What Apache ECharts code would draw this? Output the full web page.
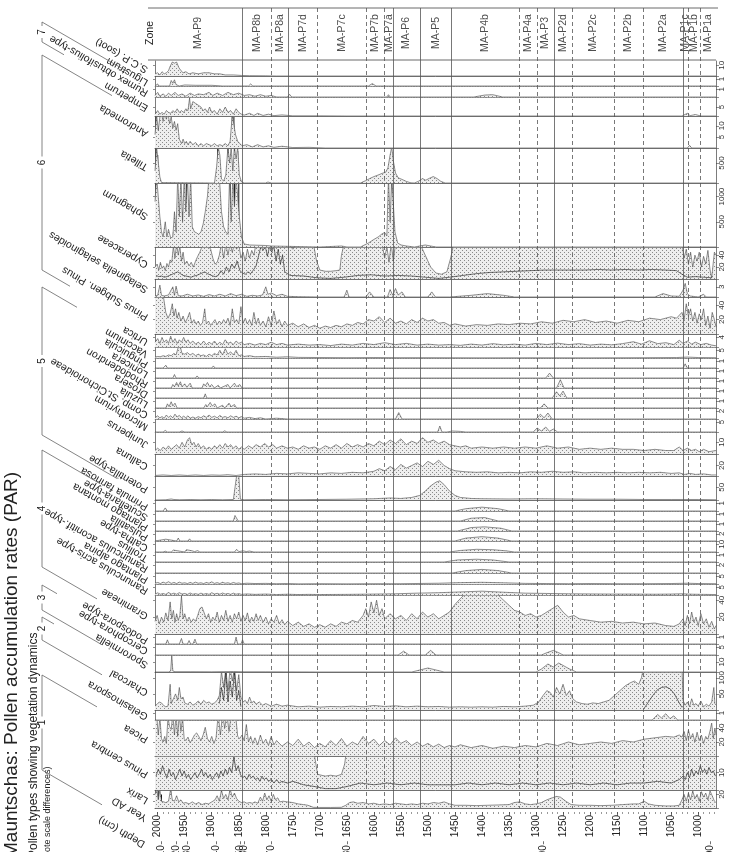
<!DOCTYPE html>
<html><head><meta charset="utf-8">
<script src="https://cdn.jsdelivr.net/npm/echarts@6/dist/echarts.min.js"></script>
<style>html,body{margin:0;padding:0;background:#fff}#c{width:729px;height:852px}</style>
</head><body><div id="c"></div>
<script>
// ---------------- DATA (year AD, PAR value) ----------------
const yearTicks = [2000,1950,1900,1850,1800,1750,1700,1650,1600,1550,1500,1450,1400,1350,1300,1250,1200,1150,1100,1050,1000];
const depthYears = [1998,1993,1965,1946,1891,1848,1839,1789,1650,1287,978];
const depthLabels = ['100','110','120','130','140','150','160','170','180','190','200'];
const zoneNames = ['MA-P9','MA-P8b','MA-P8a','MA-P7d','MA-P7c','MA-P7b','MA-P7a','MA-P6','MA-P5','MA-P4b','MA-P4a','MA-P3','MA-P2d','MA-P2c','MA-P2b','MA-P2a','MA-P1c','MA-P1b','MA-P1a'];
const zoneEdges = [2005,1844,1789,1759,1704,1615,1580,1565,1515,1456,1331,1298,1267,1233,1156,1102,1028,1019,996,967];
const zoneSolid = [true,false,true,false,false,false,true,true,true,false,false,true,false,false,false,true,false,false];

const sootPAR = [[2005,2],[2000,3],[1996,1],[1992,4],[1988,2],[1984,3],[1980,5],[1977,9],[1973,13],[1969,12],[1965,13],[1961,8],[1957,5],[1953,3],[1948,4],[1942,2],[1935,3],[1925,2],[1915,3],[1905,3],[1895,2],[1885,2],[1875,1],[1860,1],[1845,0.5],[1830,0.3],[1800,0.2],[1780,0],[967,0]];
const ligustrum = [[2005,0],[2000,0.3],[1998,0],[1978,0],[1975,0.8],[1972,0.4],[1969,0.9],[1966,0.2],[1960,0],[1950,0.15],[1930,0.1],[1900,0.1],[1880,0],[1832,0],[1828,0.3],[1824,0],[1610,0],[1603,0.35],[1596,0],[967,0]];
const rumex = [[2005,0.2],[2000,0.6],[1996,0.1],[1990,0.4],[1985,0.1],[1980,0.5],[1975,0.2],[1968,0.6],[1962,0.2],[1955,0.4],[1948,0.1],[1940,0.5],[1932,0.2],[1925,0.4],[1915,0.3],[1905,0.6],[1898,0.2],[1890,0.5],[1880,0.2],[1870,0.6],[1860,0.3],[1850,0.5],[1840,0.2],[1830,0.3],[1820,0.1],[1810,0.3],[1800,0.1],[1790,0.2],[1780,0],[1760,0],[1756,0.35],[1752,0],[1642,0],[1639,0.2],[1636,0],[1576,0],[1573,0.3],[1570,0],[1415,0],[1395,0.25],[1380,0.3],[1362,0],[967,0]];
const empetrum = [[2005,1],[2000,3],[1996,1],[1992,2],[1988,1],[1984,3],[1980,2],[1976,1.5],[1972,3],[1968,2],[1964,4],[1960,2],[1956,3],[1952,2],[1948,4],[1944,3],[1941,10],[1939,4],[1935,8],[1930,7],[1925,6],[1920,5],[1916,3],[1912,4],[1908,2],[1904,5],[1900,2],[1895,3],[1890,1],[1885,4],[1880,2],[1875,5],[1870,2],[1865,3],[1860,1],[1855,4],[1850,2],[1845,1],[1840,0.5],[1830,1.5],[1822,0.3],[1815,1.5],[1805,0.3],[1795,1],[1785,0.2],[1770,0.6],[1750,0.1],[1700,0.1],[1650,0],[1030,0],[1020,1.5],[1015,0.2],[1005,0.8],[995,0],[967,0]];
const andromeda = [[2005,6],[2002,15],[1999,8],[1996,14],[1993,16],[1990,12],[1987,16],[1984,13],[1981,16],[1978,11],[1975,14],[1972,9],[1969,12],[1966,8],[1963,11],[1960,4],[1956,2],[1953,4],[1950,2],[1947,3],[1944,1.5],[1940,3],[1935,1.5],[1930,2.5],[1925,1],[1920,2],[1915,1],[1910,2],[1905,1.5],[1900,1],[1895,2],[1890,1],[1885,1.5],[1880,1],[1875,2],[1870,1],[1866,3],[1862,15],[1859,15],[1856,6],[1852,3],[1848,2],[1844,1],[1835,1.5],[1825,0.5],[1815,1.5],[1805,0.5],[1795,1],[1785,0.3],[1770,0.8],[1750,0.2],[1720,0.3],[1690,0],[1020,0],[1016,1.2],[1012,0],[967,0]];
const andromedaAct = [[2003,14],[1999,9],[1993,12],[1987,10],[1981,8],[1862,15],[1859,15]];
const tilletia = [[2005,300],[2002,900],[1999,900],[1996,150],[1993,10],[1990,0],[1895,0],[1891,400],[1888,900],[1885,700],[1882,100],[1878,50],[1874,200],[1870,900],[1867,500],[1864,900],[1861,300],[1858,900],[1855,600],[1852,900],[1849,200],[1845,30],[1840,0],[1800,0],[1796,25],[1790,0],[1625,0],[1615,60],[1608,110],[1600,160],[1592,200],[1585,240],[1578,270],[1574,380],[1570,700],[1567,900],[1564,550],[1560,250],[1555,130],[1548,90],[1540,40],[1532,5],[1525,0],[1518,40],[1510,110],[1504,70],[1497,120],[1490,160],[1483,110],[1476,40],[1468,0],[967,0]];
const tilletiaAct = [[2003,900],[2000,700],[1889,900],[1870,900],[1864,700],[1858,900],[1852,800],[1567,600]];
const sphagnum = [[2005,900],[2002,1400],[1999,1400],[1996,600],[1993,300],[1990,200],[1986,500],[1983,200],[1980,350],[1976,180],[1972,200],[1969,700],[1966,300],[1963,1400],[1960,600],[1957,1400],[1954,500],[1951,1400],[1948,700],[1945,1400],[1942,600],[1939,1400],[1936,400],[1932,300],[1928,280],[1924,250],[1920,300],[1916,450],[1912,700],[1908,1000],[1905,1400],[1900,1400],[1895,1400],[1890,1400],[1886,1400],[1882,700],[1878,400],[1874,300],[1870,250],[1867,1400],[1864,500],[1861,1400],[1858,800],[1855,1400],[1852,1400],[1849,600],[1845,200],[1840,60],[1830,40],[1800,30],[1790,20],[1700,0],[1660,20],[1650,0],[1625,0],[1610,80],[1600,150],[1592,200],[1585,260],[1580,290],[1576,220],[1573,1400],[1570,500],[1567,1400],[1564,1400],[1561,300],[1556,80],[1550,40],[1540,20],[1525,0],[1515,20],[1505,40],[1495,20],[1485,0],[967,0]];
const sphagnumAct = [[2003,1300],[1999,700],[1975,100],[1971,300],[1967,150],[1963,900],[1959,200],[1955,700],[1951,250],[1947,1300],[1943,300],[1939,900],[1935,100],[1870,200],[1866,1300],[1862,400],[1858,1300],[1854,900],[1850,1300],[1846,200],[1570,300],[1567,1300],[1564,900]];
const cyperaceae = [[2005,20],[2001,25],[1998,15],[1995,28],[1992,18],[1989,22],[1986,14],[1983,26],[1980,20],[1977,32],[1974,28],[1971,55],[1968,35],[1965,60],[1962,40],[1959,55],[1956,30],[1953,45],[1950,25],[1946,30],[1942,22],[1938,28],[1934,20],[1930,30],[1926,38],[1922,45],[1918,55],[1914,60],[1910,60],[1906,55],[1902,50],[1898,35],[1894,25],[1890,28],[1886,40],[1882,60],[1878,35],[1874,60],[1870,40],[1866,60],[1862,45],[1858,60],[1854,50],[1850,60],[1846,35],[1842,45],[1838,30],[1834,50],[1830,35],[1826,48],[1822,40],[1818,60],[1810,60],[1800,60],[1790,60],[1780,60],[1770,55],[1760,60],[1750,50],[1740,60],[1730,58],[1720,60],[1712,60],[1706,30],[1700,15],[1690,13],[1680,13],[1670,14],[1663,15],[1660,40],[1655,60],[1600,60],[1585,60],[1580,35],[1576,55],[1572,28],[1568,60],[1564,30],[1560,60],[1515,60],[1505,40],[1495,20],[1485,10],[1475,8],[1465,12],[1458,35],[1452,60],[1030,60],[1026,35],[1022,50],[1018,25],[1014,45],[1010,20],[1006,40],[1002,30],[998,45],[994,20],[990,38],[986,25],[982,48],[978,15],[975,2],[972,0],[970,45],[967,40]];
const cyperaceaeAct = [[2003,6],[1998,4],[1993,5],[1988,3],[1983,4],[1978,6],[1973,8],[1968,10],[1963,12],[1958,9],[1953,6],[1948,5],[1943,4],[1938,3],[1933,5],[1928,6],[1923,8],[1918,10],[1913,12],[1908,9],[1903,7],[1898,5],[1893,4],[1888,6],[1883,14],[1878,8],[1873,20],[1868,12],[1863,25],[1858,18],[1853,30],[1848,14],[1843,10],[1838,8],[1833,12],[1828,9],[1823,15],[1818,22],[1813,40],[1809,55],[1805,48],[1801,55],[1797,38],[1793,55],[1789,45],[1785,55],[1781,30],[1777,50],[1773,25],[1769,40],[1765,12],[1755,6],[1730,5],[1705,2],[1680,1],[1655,3],[1630,6],[1605,7],[1580,5],[1555,6],[1530,5],[1505,3],[1480,1],[1460,3],[1435,6],[1410,9],[1385,11],[1360,12],[1335,13],[1310,14],[1285,15],[1260,15],[1235,15],[1210,15],[1185,16],[1160,15],[1135,16],[1110,15],[1085,16],[1060,15],[1040,14],[1030,8],[1020,3],[1005,4],[990,3],[975,2]];
const selaginella = [[2005,0.3],[2000,0.5],[1996,3.5],[1993,0.5],[1988,0.3],[1980,0.6],[1972,3],[1969,0.5],[1966,3.2],[1962,0.4],[1955,0.3],[1945,0.8],[1935,0.3],[1925,0.6],[1915,0.2],[1905,0.7],[1895,0.3],[1885,0.8],[1875,0.3],[1865,1],[1855,0.4],[1845,0.8],[1835,0.2],[1825,0.5],[1815,0.3],[1806,0.6],[1800,3],[1796,0.8],[1790,1.2],[1780,0.4],[1770,0.8],[1760,0.2],[1740,0.1],[1700,0],[1655,0],[1650,2],[1646,0],[1615,0],[1608,1.5],[1600,0],[1575,0],[1570,2.2],[1565,0.5],[1560,2.5],[1555,0.6],[1548,1.5],[1542,0],[1500,0],[1493,1.5],[1486,0],[1460,0],[1420,0.5],[1390,1],[1360,0.5],[1340,0],[1080,0],[1065,1],[1050,0.3],[1035,0.2],[1028,2],[1024,4],[1020,1],[1015,0.3],[1000,0],[990,0.8],[985,0],[967,0]];
const pinusPinus = [[2005,55],[2001,60],[1997,55],[1993,58],[1989,50],[1985,30],[1981,22],[1977,28],[1973,42],[1970,25],[1967,35],[1964,22],[1961,30],[1957,18],[1953,25],[1949,16],[1945,22],[1941,30],[1937,15],[1933,20],[1929,14],[1925,18],[1921,12],[1917,16],[1913,35],[1910,14],[1906,18],[1902,12],[1898,16],[1894,20],[1890,13],[1886,18],[1882,14],[1878,20],[1874,15],[1870,22],[1866,12],[1862,35],[1858,16],[1854,20],[1850,14],[1846,38],[1842,15],[1838,22],[1834,14],[1830,20],[1826,12],[1822,30],[1818,14],[1814,22],[1810,12],[1805,18],[1800,10],[1795,24],[1790,12],[1785,32],[1780,14],[1775,20],[1770,10],[1765,18],[1760,12],[1750,15],[1740,10],[1730,14],[1720,9],[1710,12],[1700,8],[1690,11],[1680,9],[1670,12],[1660,10],[1650,14],[1640,12],[1630,16],[1620,14],[1610,20],[1600,18],[1590,24],[1580,16],[1570,22],[1560,15],[1550,18],[1540,14],[1530,20],[1520,16],[1510,22],[1500,18],[1490,20],[1480,15],[1470,16],[1460,12],[1450,14],[1430,11],[1410,13],[1390,12],[1370,14],[1350,13],[1330,15],[1310,14],[1290,17],[1270,15],[1250,19],[1230,17],[1210,20],[1190,16],[1170,18],[1150,15],[1130,19],[1110,17],[1090,22],[1070,20],[1050,24],[1040,22],[1030,30],[1026,20],[1022,42],[1018,25],[1014,35],[1010,18],[1006,30],[1002,15],[998,28],[994,20],[990,35],[986,12],[982,25],[978,8],[974,30],[970,20],[967,10]];
const urtica = [[2005,2],[2000,3.5],[1996,1.5],[1992,4],[1988,2],[1984,3],[1980,1.5],[1976,4.5],[1972,2],[1968,3.5],[1964,1.5],[1960,3],[1956,2],[1952,4],[1948,2],[1944,3],[1940,1.5],[1935,2.5],[1930,1.2],[1925,2],[1920,1],[1915,2.5],[1910,1],[1905,2],[1900,1.2],[1895,2.5],[1890,1],[1885,2],[1880,1],[1875,3],[1870,1.5],[1865,2],[1860,1],[1855,2.5],[1850,1.5],[1845,2],[1840,1],[1830,1.5],[1820,0.8],[1810,1.5],[1800,1],[1790,2],[1780,1],[1770,1.5],[1760,0.8],[1740,1.2],[1720,0.8],[1700,1],[1680,0.6],[1660,1.2],[1640,0.8],[1620,1.5],[1600,1],[1580,1.8],[1560,1],[1540,1.5],[1520,0.8],[1500,1.2],[1480,0.8],[1460,1],[1440,0.7],[1420,1.2],[1400,0.8],[1380,1.4],[1360,0.9],[1340,1.2],[1320,0.8],[1300,1.5],[1280,1],[1260,1.6],[1240,1],[1220,1.4],[1200,0.8],[1180,1.2],[1160,0.9],[1140,1.4],[1120,2.2],[1105,1.2],[1090,2.6],[1075,1.4],[1060,1.8],[1045,1],[1035,2.8],[1028,1.5],[1020,2.5],[1012,1.2],[1005,2],[995,1],[985,1.5],[975,0.8],[967,0.5]];
const vaccinium = [[2005,0.5],[2000,1],[1995,0.8],[1990,1.5],[1985,1],[1980,2],[1975,1.5],[1970,3],[1966,2],[1962,7],[1958,7],[1955,3],[1950,2.5],[1945,3.5],[1940,2],[1935,3],[1930,1.5],[1925,2.5],[1920,1.5],[1915,2],[1910,1],[1905,2.5],[1900,1.5],[1895,3],[1890,2],[1885,5],[1880,2],[1875,6],[1870,2.5],[1865,4],[1860,2],[1855,5],[1850,1.5],[1845,2],[1840,1],[1830,1.5],[1820,0.8],[1800,1],[1780,0.5],[1760,0.8],[1740,0.4],[1700,0.3],[1650,0.2],[1600,0.3],[1550,0.2],[1500,0.2],[1400,0.1],[1300,0.15],[1200,0.1],[1100,0.2],[1040,0.3],[1020,0.6],[1000,0.3],[967,0.2]];
const pinguicula = [[2005,0],[1990,0],[1985,0.4],[1982,0],[1900,0],[1897,0.3],[1894,0],[1028,0],[1024,0.6],[1020,0],[967,0]];
const lonicera = [[2005,0],[1972,0],[1969,0.5],[1966,0],[1930,0],[1927,0.3],[1924,0],[1282,0],[1275,0.7],[1268,0],[967,0]];
const rhododendron = [[2005,0],[1975,0],[1972,0.5],[1969,0.2],[1965,0.8],[1962,0.3],[1958,0.9],[1955,0.2],[1950,0.6],[1946,0.1],[1940,0.7],[1936,0],[1918,0],[1915,0.6],[1912,0.3],[1908,0.8],[1904,0.2],[1900,0.5],[1895,0],[1888,0.4],[1884,0],[1870,0.5],[1866,0],[1858,0.7],[1854,0.2],[1848,0.5],[1844,0],[1262,0],[1255,1.2],[1248,0],[967,0]];
const drosera = [[2005,0],[1915,0],[1912,0.6],[1909,0],[1845,0],[1270,0],[1262,0.9],[1256,0.3],[1250,1],[1243,0],[967,0]];
const luzula = [[2005,0],[1985,0],[1982,0.6],[1979,0.2],[1975,0.9],[1972,0.3],[1968,0.7],[1964,0],[1915,0],[1911,0.5],[1908,0.2],[1903,0.8],[1899,0.3],[1894,0.6],[1890,0],[1880,0.4],[1876,0],[1868,0.7],[1864,0.2],[1858,0.5],[1854,0],[1292,0],[1285,0.6],[1278,0],[967,0]];
const compCich = [[2005,0.3],[2000,0.8],[1996,0.3],[1992,0.6],[1988,0.2],[1984,1],[1980,0.4],[1976,0.8],[1972,0.3],[1968,1.2],[1964,0.5],[1960,0.9],[1956,0.3],[1952,0.7],[1948,0.3],[1944,0.8],[1940,0.2],[1935,0.5],[1930,0.2],[1925,0.6],[1920,0.3],[1915,0.8],[1910,0.4],[1905,1],[1900,0.4],[1895,0.7],[1890,0.3],[1885,0.9],[1880,0.4],[1875,0.6],[1870,0.3],[1865,0.8],[1860,0.4],[1855,0.7],[1850,0.3],[1845,0.6],[1840,0.2],[1830,0.4],[1820,0.1],[1810,0.3],[1800,0],[1780,0.2],[1760,0],[1560,0],[1554,1.6],[1548,0],[1300,0],[1292,1.2],[1285,0.3],[1278,1.5],[1270,0],[967,0]];
const microthyrium = [[2005,0],[1990,0],[1986,0.8],[1982,0],[1960,0],[1955,0.5],[1950,0],[1880,0],[1876,0.6],[1872,0],[1482,0],[1478,3],[1474,0],[1465,0],[1455,0.5],[1440,0.3],[1430,0],[1305,0],[1298,2],[1290,0.5],[1282,2.5],[1275,0.3],[1268,1.5],[1260,0],[967,0]];
const juniperus = [[2005,3],[2000,5],[1995,3],[1990,6],[1985,4],[1980,7],[1975,4],[1970,6],[1965,8],[1960,5],[1955,10],[1950,6],[1945,12],[1941,14],[1937,8],[1933,10],[1929,6],[1925,9],[1920,5],[1915,7],[1910,4],[1905,6],[1900,4],[1895,7],[1890,5],[1885,8],[1880,5],[1875,9],[1870,6],[1865,8],[1860,5],[1855,7],[1850,4],[1845,6],[1840,4],[1832,7],[1825,5],[1818,8],[1810,6],[1802,9],[1795,6],[1787,8],[1780,5],[1770,7],[1760,5],[1750,6],[1740,4],[1730,7],[1720,5],[1710,6],[1700,4],[1690,7],[1680,5],[1670,8],[1660,5],[1650,9],[1640,6],[1630,8],[1620,6],[1610,9],[1600,7],[1590,11],[1580,8],[1570,12],[1560,9],[1550,13],[1540,8],[1530,11],[1520,9],[1510,14],[1500,10],[1490,12],[1480,9],[1470,11],[1460,8],[1450,7],[1440,6],[1430,7],[1420,5],[1400,6],[1380,5],[1360,6],[1340,5],[1320,6],[1300,5],[1280,7],[1260,5],[1240,6],[1220,4],[1200,5],[1180,4],[1160,5],[1140,4],[1120,4],[1100,3],[1080,4],[1060,3],[1045,3],[1035,6],[1028,3],[1020,5],[1012,3],[1005,4],[998,2],[990,4],[980,2],[967,3]];
const calluna = [[2005,1],[1990,2],[1975,1],[1960,2],[1945,1],[1930,2],[1915,1],[1900,2],[1885,1.5],[1870,2.5],[1855,1],[1840,3],[1820,4],[1800,3],[1780,5],[1760,4],[1740,6],[1720,5],[1700,4],[1680,6],[1660,5],[1640,7],[1620,6],[1600,9],[1590,14],[1580,10],[1570,18],[1560,12],[1550,22],[1540,15],[1530,20],[1520,25],[1510,18],[1500,28],[1490,22],[1480,30],[1470,20],[1460,14],[1450,10],[1430,8],[1410,7],[1390,8],[1370,6],[1350,7],[1330,6],[1310,8],[1290,7],[1270,9],[1250,7],[1230,8],[1210,6],[1190,7],[1170,6],[1150,7],[1130,6],[1110,7],[1090,6],[1070,7],[1050,5],[1035,6],[1025,3],[1015,5],[1005,3],[990,4],[975,2],[967,2]];
const potentilla = [[2005,0],[1985,1],[1975,4],[1970,2],[1960,1],[1940,2],[1920,1],[1900,2],[1880,1],[1860,2],[1854,95],[1850,95],[1847,3],[1840,1],[1800,2],[1760,1],[1700,2],[1650,3],[1600,5],[1570,8],[1550,6],[1530,10],[1515,18],[1505,35],[1495,55],[1485,70],[1478,75],[1470,60],[1460,35],[1450,18],[1440,10],[1420,6],[1400,5],[1350,4],[1300,5],[1250,4],[1200,3],[1150,3],[1100,2],[1050,2],[1000,2],[967,1]];
const primula = [[2005,0],[1990,0],[1986,0.4],[1982,0],[1450,0],[1430,0.3],[1400,0.5],[1370,0.3],[1350,0],[967,0]];
const scutellaria = [[2005,0],[1860,0],[1857,0.8],[1854,0.9],[1851,0],[1440,0],[1420,0.4],[1395,0.5],[1370,0],[967,0]];
const plantagoMont = [[2005,0],[1445,0],[1420,0.5],[1395,0.6],[1365,0.4],[1345,0],[967,0]];
const pulsatilla = [[2005,0],[1985,0.5],[1982,0],[1965,0],[1962,0.8],[1959,0],[1944,0],[1941,0.6],[1938,0],[1450,0],[1430,0.8],[1400,1.2],[1370,0.8],[1345,0],[967,0]];
const caltha = [[2005,0],[1990,0],[1986,1],[1982,0],[1975,0],[1971,2.5],[1968,0],[1950,0],[1947,3],[1944,0.5],[1936,1.5],[1932,0.5],[1926,1.8],[1922,0],[1908,0],[1905,1.2],[1902,0],[1858,0],[1854,3.5],[1850,0.5],[1842,1.5],[1836,0.6],[1830,1.2],[1822,0],[1460,0],[1440,2],[1410,3.5],[1380,3],[1355,1.5],[1340,0],[967,0]];
const trollius = [[2005,0],[1470,0],[1445,0.3],[1410,0.4],[1380,0.3],[1350,0],[967,0]];
const ranAconit = [[2005,0],[1920,0],[1917,0.5],[1914,0],[1455,0],[1430,0.6],[1400,0.9],[1370,0.6],[1345,0],[967,0]];
const plantagoAlp = [[2005,0.5],[2000,1],[1995,0.3],[1990,1.2],[1985,0.5],[1980,1.5],[1975,0.4],[1970,1],[1965,0.3],[1960,1.2],[1955,0.5],[1950,0.8],[1945,0.3],[1940,1],[1935,0.4],[1930,1.2],[1925,0.5],[1920,0.8],[1915,0.3],[1910,1],[1905,0.5],[1900,1.4],[1895,0.4],[1890,0.9],[1885,0.3],[1880,1.1],[1875,0.5],[1870,0.8],[1865,0.3],[1860,1],[1855,0.4],[1850,0.7],[1845,0.2],[1835,0.5],[1820,0.3],[1800,0.4],[1780,0.2],[1760,0.3],[1740,0.1],[1700,0.2],[1650,0.1],[1600,0.2],[1550,0.2],[1480,0.5],[1440,0.9],[1400,1.1],[1360,0.8],[1320,0.4],[1280,0.3],[1240,0.2],[1200,0.3],[1150,0.2],[1100,0.2],[1050,0.3],[1020,0.5],[1000,0.3],[967,0.2]];
const ranAcris = [[2005,0.6],[2000,1.4],[1995,0.5],[1990,1],[1985,0.4],[1980,1.6],[1975,0.6],[1970,1.2],[1965,0.5],[1960,1.5],[1955,0.6],[1950,1],[1945,0.4],[1940,1.3],[1935,0.5],[1930,0.9],[1925,0.4],[1920,1.2],[1915,0.5],[1910,1],[1905,0.4],[1900,1.5],[1895,0.6],[1890,1.1],[1885,0.5],[1880,1.3],[1875,0.6],[1870,1],[1865,0.4],[1860,1.2],[1855,0.5],[1850,0.9],[1845,0.4],[1835,0.7],[1820,0.4],[1800,0.6],[1780,0.3],[1760,0.5],[1740,0.3],[1720,0.4],[1700,0.3],[1650,0.4],[1600,0.6],[1560,0.8],[1520,1.2],[1480,1.5],[1440,2],[1400,2.5],[1360,1.8],[1320,1.2],[1280,1],[1240,0.8],[1200,0.7],[1160,0.6],[1120,0.6],[1080,0.5],[1050,0.6],[1030,0.8],[1010,0.5],[990,0.4],[967,0.3]];
const gramineae = [[2005,15],[2001,22],[1997,12],[1993,20],[1989,14],[1985,25],[1981,16],[1977,38],[1974,18],[1971,28],[1968,14],[1965,24],[1962,16],[1959,22],[1956,45],[1953,18],[1950,24],[1946,15],[1942,20],[1938,14],[1934,18],[1930,15],[1926,22],[1922,30],[1918,32],[1914,25],[1910,18],[1906,24],[1902,14],[1898,20],[1894,16],[1890,26],[1886,14],[1882,22],[1878,16],[1874,28],[1870,15],[1866,22],[1862,14],[1858,24],[1854,18],[1850,26],[1846,15],[1842,22],[1838,16],[1834,25],[1830,14],[1826,20],[1822,15],[1818,24],[1814,16],[1810,22],[1805,14],[1800,20],[1795,12],[1790,18],[1785,14],[1780,22],[1775,12],[1770,17],[1765,11],[1760,15],[1750,10],[1740,14],[1730,9],[1720,12],[1710,8],[1700,11],[1690,8],[1680,12],[1670,9],[1660,14],[1650,12],[1640,16],[1630,14],[1620,22],[1615,30],[1610,20],[1605,38],[1600,25],[1595,40],[1590,22],[1585,30],[1580,18],[1570,24],[1560,18],[1550,22],[1540,16],[1530,24],[1520,18],[1510,26],[1500,20],[1490,24],[1480,18],[1470,22],[1460,26],[1450,35],[1440,42],[1430,48],[1420,50],[1410,50],[1400,50],[1390,48],[1380,50],[1370,46],[1360,40],[1350,34],[1340,28],[1330,26],[1320,22],[1310,24],[1300,20],[1290,22],[1280,26],[1270,30],[1260,34],[1250,26],[1240,20],[1230,22],[1220,18],[1200,16],[1180,14],[1160,15],[1140,13],[1120,14],[1100,12],[1080,13],[1060,10],[1045,9],[1035,12],[1028,18],[1024,10],[1020,22],[1016,12],[1012,26],[1008,14],[1004,20],[1000,10],[995,24],[990,12],[985,18],[980,8],[975,15],[970,6],[967,10]];
const podospora = [[2005,0],[1985,0],[1982,0.6],[1979,0],[1960,0],[1956,0.8],[1953,0],[1945,0],[1942,0.5],[1939,0],[1935,0],[1931,0.7],[1928,0],[1858,0],[1855,1],[1852,0],[1846,0],[1843,0.6],[1840,0],[967,0]];
const cercophora = [[2005,0],[1900,0],[1897,0.5],[1894,0],[1555,0],[1545,2.5],[1535,0],[1505,0],[1495,3],[1485,0],[1290,0],[1280,1.5],[1268,3],[1258,1.5],[1250,0],[967,0]];
const sporormiella = [[2005,0],[1980,0],[1976,1],[1974,17],[1972,1],[1968,0.3],[1940,0.3],[1900,0.2],[1860,0.5],[1840,0.2],[1800,0.2],[1700,0],[1530,0],[1515,2],[1500,4],[1485,2],[1470,0],[1300,0],[1290,3],[1278,8],[1268,5],[1258,9],[1248,6],[1238,3],[1225,0],[967,0]];
const charcoal = [[2005,12],[2001,18],[1997,25],[1993,22],[1989,14],[1985,10],[1981,12],[1977,80],[1975,20],[1971,35],[1967,50],[1963,30],[1960,70],[1957,35],[1953,40],[1950,22],[1945,18],[1940,25],[1935,15],[1930,20],[1925,28],[1920,18],[1915,30],[1910,22],[1905,25],[1900,18],[1895,22],[1890,30],[1886,45],[1882,120],[1878,70],[1874,130],[1870,60],[1866,130],[1862,90],[1858,130],[1854,60],[1850,110],[1846,40],[1842,25],[1838,30],[1834,20],[1830,40],[1826,22],[1822,28],[1818,18],[1812,25],[1806,15],[1800,20],[1790,12],[1780,18],[1770,12],[1760,15],[1740,10],[1720,12],[1700,9],[1680,11],[1660,10],[1640,12],[1620,10],[1600,14],[1580,11],[1560,13],[1540,10],[1520,12],[1500,10],[1480,11],[1460,9],[1440,10],[1420,9],[1400,10],[1380,9],[1360,11],[1340,10],[1320,12],[1305,15],[1295,25],[1287,45],[1280,60],[1274,55],[1268,40],[1262,70],[1256,50],[1250,80],[1244,45],[1238,60],[1232,35],[1225,25],[1215,20],[1205,18],[1195,22],[1185,20],[1175,25],[1165,30],[1155,45],[1145,60],[1135,75],[1125,85],[1118,90],[1110,80],[1105,100],[1100,140],[1030,140],[1028,30],[1024,15],[1020,25],[1016,10],[1012,35],[1008,15],[1004,20],[1000,12],[995,28],[990,10],[985,18],[980,12],[975,25],[971,70],[969,20],[967,15]];
const charcoalAct = [[1886,20],[1882,70],[1878,30],[1874,115],[1870,25],[1866,90],[1862,40],[1858,120],[1854,30],[1850,60],[1846,10],[1500,'-'],[1100,5],[1092,25],[1084,45],[1076,62],[1068,70],[1060,72],[1052,66],[1044,50],[1036,25],[1030,8]];
const gelasinospora = [[2005,0],[1085,0],[1075,0.8],[1068,0.3],[1060,0.9],[1052,0.2],[1045,0.6],[1038,0],[967,0]];
const picea = [[2005,55],[2002,60],[1999,30],[1996,55],[1993,25],[1990,20],[1987,28],[1984,18],[1981,55],[1978,42],[1975,38],[1972,60],[1969,30],[1966,60],[1963,28],[1960,60],[1957,35],[1954,55],[1951,25],[1948,22],[1944,27],[1940,19],[1936,24],[1932,30],[1928,33],[1924,28],[1920,22],[1916,30],[1912,41],[1908,25],[1904,20],[1900,28],[1896,18],[1892,26],[1888,60],[1884,30],[1880,60],[1876,40],[1872,60],[1868,35],[1864,60],[1860,50],[1856,60],[1852,28],[1848,25],[1844,30],[1840,22],[1836,45],[1832,20],[1828,28],[1824,18],[1820,26],[1815,16],[1810,30],[1805,18],[1800,24],[1795,15],[1790,28],[1785,16],[1780,22],[1770,14],[1760,20],[1750,15],[1740,24],[1730,14],[1720,20],[1710,12],[1700,18],[1690,13],[1680,22],[1670,15],[1660,25],[1650,14],[1640,20],[1630,16],[1620,28],[1610,18],[1600,24],[1590,15],[1580,22],[1570,16],[1560,26],[1550,18],[1540,22],[1530,15],[1520,20],[1510,14],[1500,18],[1490,13],[1480,17],[1470,12],[1460,15],[1450,13],[1440,16],[1420,12],[1400,15],[1380,11],[1360,14],[1340,12],[1320,15],[1300,13],[1280,18],[1260,15],[1240,20],[1220,16],[1200,18],[1180,20],[1160,18],[1140,22],[1120,20],[1100,24],[1080,26],[1060,28],[1045,27],[1035,30],[1030,27],[1026,35],[1022,22],[1018,37],[1014,25],[1010,32],[1006,20],[1002,34],[998,22],[994,30],[990,18],[986,28],[982,24],[978,36],[975,47],[972,25],[969,40],[967,30]];
const piceaAct = [[2003,12],[1999,6],[1995,9],[1991,4],[1987,5],[1983,7],[1979,10],[1975,6],[1971,14],[1967,8],[1963,12],[1959,7],[1955,10],[1951,5],[1947,4],[1943,6],[1939,3],[1935,5],[1931,6],[1927,4],[1923,5],[1919,3],[1915,6],[1911,8],[1907,4],[1903,3],[1899,5],[1895,3],[1891,8],[1887,14],[1883,9],[1879,18],[1875,8],[1871,15],[1867,9],[1863,20],[1859,10],[1855,16],[1851,6],[1847,5],[1843,4],[1835,6],[1825,3],[1815,4],[1805,3],[1795,4],[1785,3]];
const pinusCembra = [[2005,30],[1720,30],[1710,20],[1704,9],[1690,8],[1680,8.5],[1670,8],[1660,9],[1654,15],[1648,30],[967,30]];
const pinusCembraAct = [[2003,8],[1999,12],[1995,9],[1991,14],[1987,10],[1983,7],[1979,12],[1975,8],[1971,10],[1967,6],[1963,9],[1959,12],[1955,8],[1951,11],[1947,7],[1943,9],[1939,6],[1935,8],[1931,10],[1927,7],[1923,9],[1919,12],[1915,8],[1911,10],[1907,7],[1903,9],[1899,6],[1895,8],[1891,10],[1887,7],[1883,11],[1879,8],[1875,12],[1871,9],[1867,13],[1863,10],[1859,19],[1855,11],[1851,14],[1847,9],[1843,7],[1839,8],[1835,6],[1831,9],[1827,7],[1823,8],[1819,6],[1815,7],[1811,5],[1807,8],[1803,6],[1799,7],[1795,5],[1790,6],[1785,4],[1780,6],[1775,4],[1770,5],[1760,4],[1750,5],[1730,3],[1710,2],[1690,0.8],[1670,0.8],[1650,2],[1625,4],[1600,3],[1575,4],[1550,3],[1525,4],[1500,3],[1475,3],[1450,3],[1425,4],[1400,3],[1375,4],[1350,3],[1325,4],[1300,3],[1275,4],[1250,3],[1225,4],[1200,3],[1175,4],[1150,3],[1125,4],[1100,4],[1075,5],[1050,4],[1035,6],[1028,8],[1024,6],[1020,10],[1016,7],[1012,12],[1008,8],[1004,11],[1000,9],[996,14],[992,10],[988,12],[984,9],[980,13],[976,10],[972,11],[968,8]];
const larix = [[2005,20],[2002,28],[1999,12],[1996,26],[1993,10],[1990,9],[1985,8],[1980,10],[1976,28],[1973,12],[1969,10],[1965,18],[1961,9],[1957,12],[1953,7],[1948,8],[1942,6],[1936,9],[1930,6],[1924,8],[1918,5],[1912,7],[1906,6],[1900,9],[1894,12],[1890,18],[1886,10],[1882,26],[1878,14],[1874,20],[1870,12],[1866,28],[1862,16],[1858,22],[1854,14],[1850,10],[1845,8],[1840,9],[1835,7],[1830,8],[1825,7],[1820,9],[1815,7],[1810,16],[1806,10],[1802,22],[1798,12],[1794,18],[1790,10],[1786,20],[1782,12],[1778,15],[1774,9],[1768,10],[1760,9],[1750,8],[1740,6],[1730,5],[1722,4],[1712,1],[1700,0.8],[1680,0.8],[1660,1],[1652,4],[1645,8],[1638,9],[1630,7],[1620,8],[1610,6],[1600,7],[1590,5],[1580,6],[1570,5],[1560,7],[1550,6],[1540,5],[1530,6],[1520,5],[1510,7],[1500,6],[1490,8],[1480,7],[1470,9],[1460,6],[1450,4],[1430,4],[1410,3.5],[1390,4],[1370,4.5],[1350,5],[1340,8],[1330,9],[1320,6],[1310,5],[1300,6],[1290,8],[1280,12],[1270,15],[1262,17],[1255,16],[1245,10],[1235,5],[1220,4],[1200,4],[1180,3.5],[1160,4],[1140,5],[1120,6],[1110,6],[1100,10],[1092,6],[1080,4],[1060,3],[1045,3],[1035,4],[1030,12],[1026,20],[1022,10],[1018,22],[1014,12],[1010,25],[1006,14],[1002,20],[998,10],[994,24],[990,16],[986,22],[982,12],[978,25],[974,18],[970,10],[967,8]];
const larixAct = [[1999,25],[1993,20],[1976,25],[1882,25],[1866,25],[1858,18],[1802,15],[1786,12],[1026,8],[1010,10],[994,9],[978,10]];

// ---------------- LAYOUT (strip positions / scales) ----------------
const strips = [
 {name:'S.C.P. (soot)', data:sootPAR, top:61, bot:76, max:14, ticks:[10]},
 {name:'Ligustrum', data:ligustrum, top:77, bot:86, max:1.3, ticks:[1]},
 {name:'Rumex obtusifolius-type', data:rumex, top:87, bot:97, max:1.3, ticks:[1]},
 {name:'Empetrum', data:empetrum, top:98, bot:116, max:10, ticks:[5]},
 {name:'Andromeda', data:andromeda, act:andromedaAct, top:117, bot:148, max:14, ticks:[5,10]},
 {name:'Tilletia', data:tilletia, act:tilletiaAct, top:149, bot:183, max:850, ticks:[500]},
 {name:'Sphagnum', data:sphagnum, act:sphagnumAct, top:184, bot:247, max:1250, ticks:[500,1000]},
 {name:'Cyperaceae', data:cyperaceae, act:cyperaceaeAct, outline:true, top:248, bot:279, max:52, ticks:[20,40]},
 {name:'Selaginella selaginoides', data:selaginella, top:280, bot:297, max:5, ticks:[3]},
 {name:'Pinus Subgen. Pinus', data:pinusPinus, top:298, bot:334, max:50, ticks:[20,40]},
 {name:'Urtica', data:urtica, top:335, bot:347, max:5, ticks:[4]},
 {name:'Vaccinium', data:vaccinium, top:348, bot:358, max:6.5, ticks:[5]},
 {name:'Pinguicula', data:pinguicula, top:359, bot:368, max:1.3, ticks:[1]},
 {name:'Lonicera', data:lonicera, top:369, bot:378, max:1.3, ticks:[1]},
 {name:'Rhododendron', data:rhododendron, top:379, bot:388, max:1.3, ticks:[1]},
 {name:'Drosera', data:drosera, top:389, bot:398, max:1.3, ticks:[1]},
 {name:'Luzula', data:luzula, top:399, bot:408, max:1.3, ticks:[1]},
 {name:'Comp. St.Cichorioideae', data:compCich, top:409, bot:419, max:2.5, ticks:[2]},
 {name:'Microthyrium', data:microthyrium, top:420, bot:432, max:6, ticks:[5]},
 {name:'Juniperus', data:juniperus, top:433, bot:454, max:18, ticks:[10]},
 {name:'Calluna', data:calluna, top:455, bot:476, max:40, ticks:[20]},
 {name:'Potentilla-type', data:potentilla, top:477, bot:500, max:90, ticks:[50]},
 {name:'Primula farinosa', data:primula, top:501, bot:511, max:1.3, ticks:[1]},
 {name:'Scutellaria-type', data:scutellaria, top:512, bot:521, max:1.3, ticks:[1]},
 {name:'Plantago montana', data:plantagoMont, top:522, bot:531, max:1.3, ticks:[1]},
 {name:'Pulsatilla', data:pulsatilla, top:532, bot:541, max:2.5, ticks:[2]},
 {name:'Caltha-type', data:caltha, top:542, bot:552, max:13, ticks:[10]},
 {name:'Trollius', data:trollius, top:553, bot:562, max:1.3, ticks:[1]},
 {name:'Ranunculus aconitif.-type', data:ranAconit, top:563, bot:573, max:2.5, ticks:[2]},
 {name:'Plantago alpina', data:plantagoAlp, top:574, bot:584, max:6.5, ticks:[5]},
 {name:'Ranunculus acris-type', data:ranAcris, top:585, bot:595, max:6.5, ticks:[5]},
 {name:'Gramineae', data:gramineae, top:596, bot:634, max:45, ticks:[20,40]},
 {name:'Podospora-type', data:podospora, top:635, bot:644, max:1.3, ticks:[1]},
 {name:'Cercophora-type', data:cercophora, top:645, bot:655, max:6.5, ticks:[5]},
 {name:'Sporormiella', data:sporormiella, top:656, bot:672, max:16, ticks:[10]},
 {name:'Charcoal', data:charcoal, act:charcoalAct, outline:true, top:673, bot:710, max:115, ticks:[50,100]},
 {name:'Gelasinospora', data:gelasinospora, top:711, bot:720, max:1.3, ticks:[1]},
 {name:'Picea', data:picea, act:piceaAct, top:721, bot:756, max:50, ticks:[20,40]},
 {name:'Pinus cembra', data:pinusCembra, act:pinusCembraAct, outline:true, top:757, bot:790, max:19, ticks:[10]},
 {name:'Larix', data:larix, act:larixAct, top:791, bot:808, max:25, ticks:[10,20]}
];
const groups = [
 {label:'7', y0:22, y1:42, dx0:85, dx1:22},
 {label:'6', y0:55, y1:270, dx0:70, dx1:28},
 {label:'5', y0:287, y1:435, dx0:35, dx1:75},
 {label:'4', y0:450, y1:567, dx0:58, dx1:55},
 {label:'3', y0:585, y1:610, dx0:15, dx1:60},
 {label:'2', y0:617, y1:640, dx0:12, dx1:60},
 {label:'1', y0:675, y1:770, dx0:55, dx1:60}
];

// ---------------- BUILD ----------------
const FONT = 'Liberation Sans';
const XL = 155, XR = 13, YMIN = 967, YMAX = 2005;
const plain = (v) => String(v);
const pc = document.createElement('canvas'); pc.width = 4; pc.height = 4;
const g2 = pc.getContext('2d');
g2.fillStyle = '#eeeeee'; g2.fillRect(0,0,4,4);
g2.fillStyle = '#8a8a8a'; g2.fillRect(0,0,1,1); g2.fillRect(2,2,1,1);
const stipple = {image: pc, repeat: 'repeat'};

const grid = [], xAxis = [], yAxis = [], series = [], graphic = [];
const decades = [];
for (let y = 970; y <= 2000; y += 10) decades.push(y);

strips.forEach((s) => {
  const gi = grid.length;
  const h = s.bot - s.top;
  const small = h < 14;
  grid.push({left: XL, right: XR, top: s.top, height: h});
  const xi = xAxis.length;
  xAxis.push({gridIndex: gi, type: 'value', min: YMIN, max: YMAX, inverse: true,
    axisLine: {show: true, onZero: false, lineStyle: {color: small ? '#666' : '#333', width: small ? 0.8 : 0.7, type: small ? 'dotted' : 'solid'}},
    axisTick: {show: false}, axisLabel: {show: false}, splitLine: {show: false}});
  const yi = yAxis.length;
  yAxis.push({gridIndex: gi, type: 'value', min: 0, max: s.max,
    axisLine: {show: true, lineStyle: {color: '#444', width: 0.7}},
    axisTick: {show: true, length: 2, customValues: s.ticks, lineStyle: {color: '#444', width: 0.6}},
    axisLabel: {show: false}, splitLine: {show: false}});
  yAxis.push({gridIndex: gi, type: 'value', position: 'right', min: 0, max: s.max,
    axisLine: {show: true, lineStyle: {color: '#444', width: 0.7}},
    axisTick: {show: true, length: 3, customValues: [0].concat(s.ticks), lineStyle: {color: '#444', width: 0.6}},
    axisLabel: {show: true, customValues: s.ticks, formatter: plain, rotate: 90, fontSize: 8, margin: 2, color: '#333', fontFamily: FONT},
    splitLine: {show: false}});
  series.push({type: 'line', xAxisIndex: xi, yAxisIndex: yi, data: s.data, symbol: 'none',
    lineStyle: {color: '#444', width: 0.6}, areaStyle: {color: stipple, opacity: 1}, silent: true, clip: true});
  if (s.act) {
    series.push({type: 'bar', xAxisIndex: xi, yAxisIndex: yi, data: s.act, barWidth: 1,
      itemStyle: {color: '#111'}, silent: true, clip: true});
    if (s.outline) series.push({type: 'line', xAxisIndex: xi, yAxisIndex: yi, data: s.act, symbol: 'none',
      lineStyle: {color: '#111', width: 0.6}, silent: true, clip: true});
  }
  graphic.push({type: 'text', x: 150, y: (s.top + s.bot) / 2 - 3, rotation: 150 * Math.PI / 180,
    style: {text: s.name, font: '10.5px "' + FONT + '"', fill: '#222', textAlign: 'left', textVerticalAlign: 'bottom'}, silent: true});
});

// zone grid
{
  const gi = grid.length;
  grid.push({left: XL, right: XR, top: 8, height: 800});
  const xi = xAxis.length;
  xAxis.push({gridIndex: gi, type: 'value', min: YMIN, max: YMAX, inverse: true, show: false});
  const yi = yAxis.length;
  yAxis.push({gridIndex: gi, type: 'value', min: 0, max: 800, inverse: true, show: false});
  series.push({type: 'line', xAxisIndex: xi, yAxisIndex: yi, data: [], silent: true,
    markLine: {symbol: ['none', 'none'], silent: true, label: {show: false}, animation: false,
      data: zoneEdges.slice(1, -1).map((y, k) => ({xAxis: y, lineStyle: {color: '#555', width: 0.8, type: zoneSolid[k] ? 'solid' : [4, 3]}}))}});
  series.push({type: 'scatter', xAxisIndex: xi, yAxisIndex: yi, symbolSize: 1, itemStyle: {color: 'rgba(0,0,0,0)'}, silent: true,
    data: zoneNames.map((n, k) => ({name: n, value: [(zoneEdges[k] + zoneEdges[k + 1]) / 2, 25]})),
    label: {show: true, position: 'inside', formatter: '{b}', rotate: 90, fontSize: 10.5, color: '#222', fontFamily: FONT}});
}
// year axis
{
  const gi = grid.length;
  grid.push({left: XL, right: XR, top: 811, height: 1});
  xAxis.push({gridIndex: gi, type: 'value', min: YMIN, max: YMAX, inverse: true, position: 'bottom',
    axisLine: {show: false}, axisTick: {show: true, length: 2, customValues: decades, lineStyle: {color: '#555', width: 0.6}},
    axisLabel: {show: false}, splitLine: {show: false}});
  xAxis.push({gridIndex: gi, type: 'value', min: YMIN, max: YMAX, inverse: true, position: 'bottom',
    axisLine: {show: false}, axisTick: {show: true, length: 4, customValues: yearTicks, lineStyle: {color: '#333', width: 0.7}},
    axisLabel: {show: true, customValues: yearTicks, formatter: plain, rotate: 90, fontSize: 10, margin: 3, color: '#222', fontFamily: FONT},
    splitLine: {show: false}});
  yAxis.push({gridIndex: gi, type: 'value', show: false});
}
// depth axis
{
  const gi = grid.length;
  grid.push({left: XL, right: XR, top: 841, height: 1});
  xAxis.push({gridIndex: gi, type: 'value', min: YMIN, max: YMAX, inverse: true, position: 'bottom',
    axisLine: {show: false}, axisTick: {show: true, length: 3, customValues: depthYears, lineStyle: {color: '#333', width: 0.7}},
    axisLabel: {show: true, customValues: depthYears, formatter: (v) => depthLabels[depthYears.indexOf(v)] || '', rotate: 90, fontSize: 10, margin: 4, color: '#222', fontFamily: FONT},
    splitLine: {show: false}});
  yAxis.push({gridIndex: gi, type: 'value', show: false});
}

// header / titles / brackets
graphic.push({type: 'line', shape: {x1: 148, y1: 8, x2: 718, y2: 8}, style: {stroke: '#444', lineWidth: 0.8}, silent: true});
graphic.push({type: 'line', shape: {x1: 148, y1: 60, x2: 716, y2: 60}, style: {stroke: '#444', lineWidth: 0.8}, silent: true});
graphic.push({type: 'text', x: 150, y: 33, rotation: Math.PI / 2, style: {text: 'Zone', font: '10.5px "' + FONT + '"', fill: '#222', textAlign: 'center', textVerticalAlign: 'middle'}, silent: true});
graphic.push({type: 'text', x: 12, y: 858, rotation: Math.PI / 2, style: {text: 'Mauntschas: Pollen accumulation rates (PAR)', font: '19px "' + FONT + '"', fill: '#222', textAlign: 'left', textVerticalAlign: 'middle'}, silent: true});
graphic.push({type: 'text', x: 34, y: 858, rotation: Math.PI / 2, style: {text: 'Pollen types showing vegetation dynamics', font: '12px "' + FONT + '"', fill: '#222', textAlign: 'left', textVerticalAlign: 'middle'}, silent: true});
graphic.push({type: 'text', x: 48, y: 860, rotation: Math.PI / 2, style: {text: '(note scale differences)', font: '9px "' + FONT + '"', fill: '#222', textAlign: 'left', textVerticalAlign: 'middle'}, silent: true});
graphic.push({type: 'text', x: 149, y: 814, rotation: 150 * Math.PI / 180, style: {text: 'Year AD', font: '10.5px "' + FONT + '"', fill: '#222', textAlign: 'left', textVerticalAlign: 'bottom'}, silent: true});
graphic.push({type: 'text', x: 147, y: 840, rotation: 150 * Math.PI / 180, style: {text: 'Depth (cm)', font: '10.5px "' + FONT + '"', fill: '#222', textAlign: 'left', textVerticalAlign: 'bottom'}, silent: true});
groups.forEach((g) => {
  const mid = (g.y0 + g.y1) / 2;
  graphic.push({type: 'polyline', shape: {points: [[42 + g.dx0, g.y0 + g.dx0 * 0.58], [42, g.y0], [42, mid - 6]]}, style: {stroke: '#666', lineWidth: 0.8, fill: null}, silent: true});
  graphic.push({type: 'polyline', shape: {points: [[42, mid + 6], [42, g.y1], [42 + g.dx1, g.y1 + g.dx1 * 0.58]]}, style: {stroke: '#666', lineWidth: 0.8, fill: null}, silent: true});
  graphic.push({type: 'text', x: 42, y: mid, rotation: Math.PI / 2, style: {text: g.label, font: '10px "' + FONT + '"', fill: '#222', textAlign: 'center', textVerticalAlign: 'middle'}, silent: true});
});

const chart = echarts.init(document.getElementById('c'), null, {renderer: 'canvas', width: 729, height: 852});
chart.setOption({animation: false, backgroundColor: '#fff', textStyle: {fontFamily: FONT},
  grid, xAxis, yAxis, series, graphic});
</script></body></html>
